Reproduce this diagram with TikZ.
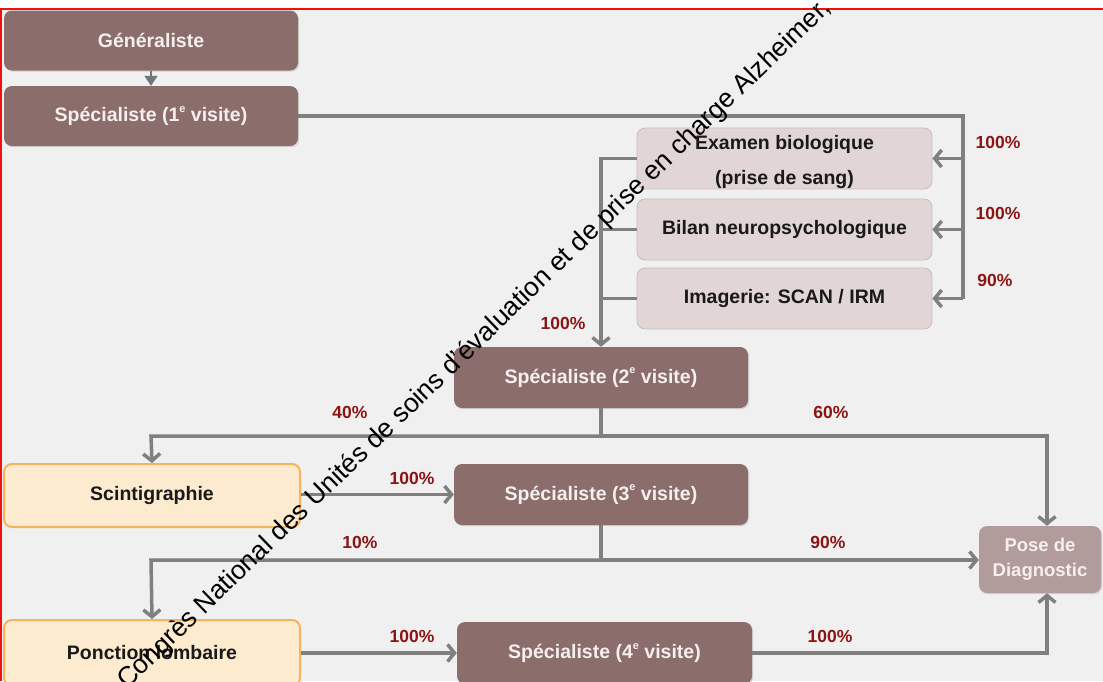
\documentclass[tikz,border=0pt]{standalone}
\usepackage{fontspec}
\setmainfont{Liberation Sans}
\usetikzlibrary{arrows.meta,shadows}
\definecolor{bgc}{HTML}{F0F0F0}
\definecolor{darkbox}{HTML}{8B6E6B}
\definecolor{darktext}{HTML}{F6EFEF}
\definecolor{pinkbox}{HTML}{E2D5D5}
\definecolor{pinkline}{HTML}{CBBCBC}
\definecolor{posebox}{HTML}{B29B9B}
\definecolor{orfill}{HTML}{FDEBCF}
\definecolor{orline}{HTML}{F5B35C}
\definecolor{pct}{HTML}{8B1414}
\definecolor{conncol}{HTML}{808080}
\definecolor{smallarr}{HTML}{6F7777}
\definecolor{framered}{HTML}{F01010}
\newcommand{\supe}{\raisebox{0.5em}{\fontsize{11}{11}\selectfont e}}
\begin{document}
\begin{tikzpicture}[x=1pt,y=-1pt,
  boxbase/.style={rounded corners=8pt, inner sep=0pt, align=center,
    font=\fontsize{19.5}{23}\selectfont\bfseries},
  darkbx/.style={boxbase, fill=darkbox, text=darktext, minimum width=294pt, minimum height=60pt,
    drop shadow={shadow xshift=1.2pt, shadow yshift=-1.2pt, opacity=0.25}},
  pinkbx/.style={boxbase, fill=pinkbox, draw=pinkline, line width=0.8pt, text=black!90,
    minimum width=295pt, minimum height=61pt},
  orbx/.style={boxbase, fill=orfill, draw=orline, line width=2pt, text=black!90,
    minimum width=296pt, minimum height=63pt},
  posebx/.style={boxbase, fill=posebox, text=darktext, minimum width=122pt, minimum height=67pt,
    font=\fontsize{18.5}{25}\selectfont\bfseries,
    drop shadow={shadow xshift=1.2pt, shadow yshift=-1.2pt, opacity=0.25}},
  conn/.style={draw=conncol, line width=3.5pt},
  arr/.style={conn, -{Straight Barb[length=7pt,width=17pt]}},
  pctlbl/.style={text=pct, font=\fontsize{17.5}{20}\selectfont\bfseries, inner sep=0pt},
  diag/.style={font=\fontsize{26.5}{30}\selectfont, text=black, inner sep=0pt}
]
\useasboundingbox (0,0) rectangle (1103,681);
\fill[white] (0,0) rectangle (1103,681);
\fill[bgc] (1,9) rectangle (1103,681);
\draw[framered, line width=2pt] (0,9) -- (1103,9);
\draw[framered, line width=2pt] (1,9) -- (1,681);

% nodes
\node[darkbx] (gen) at (151,40.5) {Généraliste};
\node[darkbx] (sp1) at (151,116) {Spécialiste (1\supe{} visite)};
\node[pinkbx, font=\fontsize{19.5}{35}\selectfont\bfseries, text depth=0pt] (exa) at (784.5,158.5) {\raisebox{-3pt}{Examen biologique}\\\raisebox{-3pt}{(prise de sang)}};
\node[pinkbx] (bil) at (784.5,229.5) {Bilan neuropsychologique};
\node[pinkbx] (img) at (784.5,298.5) {Imagerie: SCAN / IRM};
\node[darkbx, minimum height=61pt] (sp2) at (601,377.5) {Spécialiste (2\supe{} visite)};
\node[orbx] (sci) at (152,495.5) {Scintigraphie};
\node[darkbx, minimum height=61pt] (sp3) at (601,494.5) {Spécialiste (3\supe{} visite)};
\node[posebx] (pose) at (1040,559.5) {Pose de\\Diagnostic};
\node[orbx, minimum height=66pt] (pon) at (152,653) {Ponction lombaire};
\node[darkbx, minimum width=295pt, minimum height=62pt] (sp4) at (604.5,653) {Spécialiste (4\supe{} visite)};

% coordinates
\coordinate (r1) at (963,116);
\coordinate (j2) at (601,436);
\coordinate (j2l) at (151,436);
\coordinate (j2r) at (1047,436);
\coordinate (j3) at (601,560);
\coordinate (j3l) at (151,560);
\coordinate (j4r) at (1047,653);

% connectors
\draw[draw=smallarr, line width=1.2pt, -{Triangle[length=10pt,width=13pt]}] (gen.south) -- (sp1.north);
\draw[conn] (sp1.east) -- (r1) -- (r1 |- img.east);
\draw[arr] (r1 |- exa.east) -- (exa.east);
\draw[arr] (r1 |- bil.east) -- (bil.east);
\draw[arr] (r1 |- img.east) -- (img.east);
\draw[arr] (exa.west) -| (sp2.north);
\draw[conn] (bil.west) -- (bil.west -| sp2.north);
\draw[conn] (img.west) -- (img.west -| sp2.north);
\draw[conn] (sp2.south) -- (j2);
\draw[arr] (j2) -- (j2l) -- (sci.north);
\draw[arr] (j2) -- (j2r) -- (j2r |- pose.north);
\draw[arr] (sci.east |- sp3.west) -- (sp3.west);
\draw[conn] (sp3.south) -- (j3);
\draw[arr] (j3) -- (j3l) -- (pon.north);
\draw[arr] (j3) -- (j3 -| pose.west);
\draw[arr] (pon.east) -- (sp4.west);
\draw[arr] (sp4.east) -- (j4r) -- (j4r |- pose.south);

% labels
\node[pctlbl] (p1) at (998,142) {100\%};
\node[pctlbl] (p2) at (998,213) {100\%};
\node[pctlbl] (p3) at (995,280) {90\%};
\node[pctlbl] (p4) at (563,323) {100\%};
\node[pctlbl] (p5) at (350,412) {40\%};
\node[pctlbl] (p6) at (831,412) {60\%};
\node[pctlbl] (p7) at (412,478) {100\%};
\node[pctlbl] (p8) at (360,542) {10\%};
\node[pctlbl] (p9) at (828,542) {90\%};
\node[pctlbl] (p10) at (412,636) {100\%};
\node[pctlbl] (p11) at (830,636) {100\%};

% diagonal text
\node[diag, rotate=44, anchor=base west] (dg) at (127,690) {Congrès National des Unités de soins d’évaluation et de prise en charge Alzheimer,};
\end{tikzpicture}
\end{document}
